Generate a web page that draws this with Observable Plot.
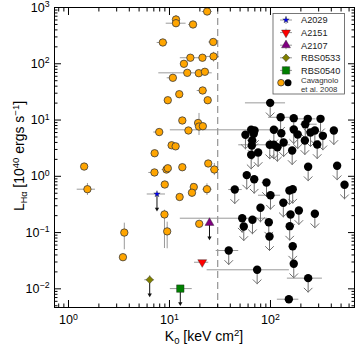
<!DOCTYPE html>
<html><head><meta charset="utf-8">
<script src="https://cdn.jsdelivr.net/npm/d3@7"></script>
<script src="https://cdn.jsdelivr.net/npm/@observablehq/plot@0.6"></script>
<style>html,body{margin:0;padding:0;background:#fff;}</style>
</head><body><div id="chart"></div>
<script>
// ---------- Cavagnolo et al. 2008: detections (orange) ----------
const detK   = [23.6, 11.6, 11.6, 17.1, 8.59, 27.1, 16.1, 21.2, 27.3, 13.9, 15.0, 19.5, 22.4, 10.8, 12.5, 21.3, 9.62, 23.9, 13.4, 19.2, 19.6, 21.4, 15.4, 7.91, 10.5, 11.5, 7.13, 13.4, 24.2, 27.8, 7.10, 9.34, 9.62, 8.98, 17.4, 16.7, 23.5, 1.43, 1.54, 12.6, 8.92, 9.49, 3.57, 3.46, 19.7];
const detL   = [849, 612, 526, 499, 239, 244, 128, 128, 135, 99.8, 69.0, 68.0, 72.0, 56.3, 28.8, 33.5, 22.5, 22.5, 9.81, 8.86, 7.67, 7.77, 6.52, 6.12, 3.56, 3.41, 2.57, 1.45, 1.69, 1.32, 1.17, 1.32, 1.39, 0.715, 0.645, 0.511, 0.590, 1.49, 0.590, 0.429, 0.210, 0.105, 0.100, 0.0365, 0.143];
const detKlo = [21.1, null, 9.28, 15.5, 7.55, 24.5, 12.8, null, 22.7, null, 7.84, null, null, 9.49, null, 18.8, null, null, null, null, null, null, null, 6.99, null, null, null, null, null, 25.5, 6.24, 8.47, null, null, null, null, 21.4, null, 1.22, null, null, null, null, null, null];
const detKhi = [26.5, null, 14.6, 18.8, 9.62, 29.7, 20.3, null, 31.3, null, 26.5, null, null, 11.9, null, 23.6, null, null, null, null, null, null, null, 8.78, null, null, null, null, null, 31.3, 7.84, 10.6, null, null, null, null, 26.5, null, 1.85, null, null, null, null, null, null];
const detLlo = [null, null, 441, null, null, null, null, null, 107, null, null, null, null, null, null, null, null, null, null, null, 5.31, null, null, null, null, null, null, null, null, 1.03, null, null, null, null, null, 0.425, 0.456, null, 0.456, null, 0.0521, 0.0515, 0.0494, null, null];
const detLhi = [null, null, 721, null, null, null, null, null, 160, null, null, null, null, null, null, null, null, null, null, null, 13.1, null, null, null, null, null, null, null, null, 1.69, null, null, null, null, null, 0.745, 0.736, null, 0.745, null, 0.25, 0.153, 0.147, null, null];

// ---------- Cavagnolo et al. 2008: upper limits (black) ----------
const limK   = [99.3, 126, 170, 234, 313, 221, 64.4, 69.5, 108, 170, 275, 424, 56.5, 68.3, 128, 186, 249, 330, 65.9, 219, 135, 98.4, 108, 117, 290, 65.3, 164, 75.5, 64.4, 236, 457, 58.2, 69.0, 91.3, 541, 44.3, 100, 154, 166, 134, 79.6, 158, 191, 275, 52.5, 66.3, 96.2, 54.4, 155, 97.8, 166, 38.6, 170, 73.8, 236];
const limL   = [20.2, 11.2, 10.8, 10.5, 10.5, 8.43, 6.70, 6.52, 6.70, 6.79, 6.52, 6.52, 5.47, 5.69, 5.83, 5.53, 6.00, 5.24, 4.33, 4.33, 3.99, 3.63, 3.63, 3.29, 3.67, 3.53, 2.87, 2.65, 2.41, 1.48, 1.54, 1.05, 0.888, 0.776, 0.706, 0.582, 0.461, 0.560, 0.590, 0.338, 0.276, 0.209, 0.247, 0.216, 0.180, 0.169, 0.153, 0.128, 0.130, 0.0851, 0.0573, 0.048, 0.0279, 0.0218, 0.0155];
const limKlo = [56.5, 95.5, null, 181, null, 198, 10.2, null, null, null, null, null, null, null, null, null, null, null, null, null, null, 48.5, null, null, null, null, null, null, null, null, null, null, null, 82.7, null, 38.6, 76.1, null, null, null, null, null, null, null, 12.8, null, null, null, null, null, null, 29.0, null, 23.6, 147];
const limKhi = [141, 165, null, 282, null, 290, 112, null, null, null, null, null, null, null, null, null, null, null, null, null, null, 158, null, null, null, null, null, null, null, null, null, null, null, 100, null, 52.5, 126, null, null, null, null, null, null, null, 93.4, null, null, null, null, null, null, 48.5, null, 154, 327];
// black point without an arrow
const blkK = [152], blkL = [0.00654], blkKlo = [117], blkKhi = [191];

// ---------- individual clusters ----------
const spName  = ["A2029", "A2151", "A2107", "RBS0533", "RBS0540"];
const spK     = [7.52, 21.1, 24.9, 6.37, 12.8];
const spL     = [0.485, 0.0297, 0.149, 0.0145, 0.0101];
const spKlo   = [6.02, 17.7, null, 5.69, 10.2];
const spKhi   = [9.13, 24.5, null, 7.10, 16.8];
const spLlo   = [null, null, null, 0.0128, null];
const spLhi   = [null, null, null, 0.0171, null];
const spLimit = [true, false, true, true, true];

// ---------- ticks ----------
const xMajor = [1, 10, 100];
const xMinor = [0.8, 0.9, 2, 3, 4, 5, 6, 7, 8, 9, 20, 30, 40, 50, 60, 70, 80, 90, 200, 300, 400, 500, 600];
const yMajor = [0.01, 0.1, 1, 10, 100, 1000];
const yMinor = [0.005, 0.006, 0.007, 0.008, 0.009, 0.02, 0.03, 0.04, 0.05, 0.06, 0.07, 0.08, 0.09, 0.2, 0.3, 0.4, 0.5, 0.6, 0.7, 0.8, 0.9, 2, 3, 4, 5, 6, 7, 8, 9, 20, 30, 40, 50, 60, 70, 80, 90, 200, 300, 400, 500, 600, 700, 800, 900];
const kCut = [30];

// ---------- tables ----------
const det = detK.map((k, i) => ({k, l: detL[i], klo: detKlo[i], khi: detKhi[i], llo: detLlo[i], lhi: detLhi[i]}));
const lim = limK.map((k, i) => ({k, l: limL[i], klo: limKlo[i], khi: limKhi[i]}));
const blk = blkK.map((k, i) => ({k, l: blkL[i], klo: blkKlo[i], khi: blkKhi[i]}));
const sp = spK.map((k, i) => ({name: spName[i], k, l: spL[i], klo: spKlo[i], khi: spKhi[i], llo: spLlo[i], lhi: spLhi[i], limit: spLimit[i]}));
const all = [...det, ...lim, ...blk, ...sp];
const xErr = all.filter(d => d.klo != null);
const yErr = all.filter(d => d.llo != null);
const spStyle = {
  A2029:   {symbol: "star", fill: "#0000ff", r: 2.0, rotate: 0},
  A2151:   {symbol: "triangle", fill: "#ff0000", r: 3.3, rotate: 180},
  A2107:   {symbol: "triangle", fill: "#800080", r: 3.3, rotate: 0},
  RBS0533: {symbol: "diamond2", fill: "#808000", r: 3.4, rotate: 0},
  RBS0540: {symbol: "square", fill: "#008000", r: 4.2, rotate: 0}
};
const spMarks = sp.map(d => Plot.dot([d], {x: "k", y: "l", symbol: spStyle[d.name].symbol, fill: spStyle[d.name].fill, r: spStyle[d.name].r, rotate: spStyle[d.name].rotate, stroke: "#222", strokeWidth: 0.4}));
const spLim = sp.filter(d => d.limit);

const expFmt = d => "10^" + Math.round(Math.log10(d));
const font = "Liberation Sans, Arial, sans-serif";

const svg = Plot.plot({
  width: 357, height: 346,
  marginLeft: 54, marginRight: 3, marginTop: 7, marginBottom: 39,
  style: {fontFamily: font, background: "white", color: "black"},
  x: {type: "log", domain: [0.727, 679], label: null},
  y: {type: "log", domain: [0.00466, 1000], label: null},
  marks: [
    Plot.ruleX(kCut, {stroke: "#9c9c9c", strokeWidth: 1.3, strokeDasharray: "7,4"}),
    Plot.ruleY(xErr, {y: "l", x1: "klo", x2: "khi", stroke: "#9a9a9a", strokeWidth: 1}),
    Plot.ruleX(yErr, {x: "k", y1: "llo", y2: "lhi", stroke: "#9a9a9a", strokeWidth: 1}),
    Plot.vector(lim, {x: "k", y: "l", length: 14, rotate: 180, anchor: "start", r: 5, stroke: "#707070", strokeWidth: 1}),
    Plot.vector(spLim, {x: "k", y: "l", length: 15, rotate: 180, anchor: "start", r: 0.1, stroke: "#111", strokeWidth: 1}),
    Plot.dot(spLim, {x: "k", y: "l", dy: 15, symbol: "triangle", rotate: 180, r: 1.6, fill: "#111"}),
    Plot.dot(det, {x: "k", y: "l", r: 3.7, fill: "#ffa500", stroke: "#3a3a3a", strokeWidth: 0.8}),
    Plot.dot([...lim, ...blk], {x: "k", y: "l", r: 4.2, fill: "black"}),
    ...spMarks,
    Plot.frame({stroke: "black", strokeWidth: 1}),
    Plot.axisX({ticks: xMajor, anchor: "bottom", tickSize: 0, tickPadding: 8, tickFormat: expFmt, fontSize: 12.5, label: null}),
    Plot.axisY({ticks: yMajor, anchor: "left", tickSize: 0, tickPadding: 5, tickFormat: expFmt, fontSize: 12.5, label: null}),
    Plot.axisX({ticks: xMajor, anchor: "bottom", tickSize: -7, tickFormat: () => "", label: null}),
    Plot.axisX({ticks: xMinor, anchor: "bottom", tickSize: -3.5, tickFormat: () => "", label: null}),
    Plot.axisX({ticks: xMajor, anchor: "top", tickSize: -7, tickFormat: () => "", label: null}),
    Plot.axisX({ticks: xMinor, anchor: "top", tickSize: -3.5, tickFormat: () => "", label: null}),
    Plot.axisY({ticks: yMajor, anchor: "left", tickSize: -7, tickFormat: () => "", label: null}),
    Plot.axisY({ticks: yMinor, anchor: "left", tickSize: -3.5, tickFormat: () => "", label: null}),
    Plot.axisY({ticks: yMajor, anchor: "right", tickSize: -7, tickFormat: () => "", label: null}),
    Plot.axisY({ticks: yMinor, anchor: "right", tickSize: -3.5, tickFormat: () => "", label: null})
  ]
});
document.getElementById("chart").appendChild(svg);

const S = d3.select(svg);
// superscript tick labels
S.selectAll("text").each(function () {
  const s = this.textContent;
  if (!s.includes("^")) return;
  const [b, e] = s.split("^");
  const t = d3.select(this);
  t.text(b);
  t.append("tspan").attr("dy", "-0.5em").attr("font-size", "0.7em").text(e.replace("-", "\u2212"));
});

// axis titles
const xl = S.append("text").attr("x", 204).attr("y", 341).attr("text-anchor", "middle")
  .attr("font-family", font).attr("font-size", 14).attr("fill", "black");
xl.append("tspan").text("K");
xl.append("tspan").attr("dy", 3).attr("font-size", 9.5).text("0");
xl.append("tspan").attr("dy", -3).text(" [keV cm");
xl.append("tspan").attr("dy", -5).attr("font-size", 9.5).text("2");
xl.append("tspan").attr("dy", 5).text("]");

const yl = S.append("text").attr("transform", "translate(23.5,156) rotate(-90)").attr("text-anchor", "middle")
  .attr("font-family", font).attr("font-size", 14).attr("fill", "black");
yl.append("tspan").text("L");
yl.append("tspan").attr("dy", 3).attr("font-size", 9).text("H\u03b1");
yl.append("tspan").attr("dy", -3).text(" [10");
yl.append("tspan").attr("dy", -5).attr("font-size", 9.5).text("40");
yl.append("tspan").attr("dy", 5).text(" ergs s");
yl.append("tspan").attr("dy", -5).attr("font-size", 9.5).text("\u22121");
yl.append("tspan").attr("dy", 5).text("]");

// legend
const lg = S.append("g").attr("font-family", font).attr("text-anchor", "start");
lg.append("rect").attr("x", 273).attr("y", 13.5).attr("width", 71.5).attr("height", 80.5)
  .attr("fill", "white").attr("stroke", "#555").attr("stroke-width", 0.8);
const symMap = {star: d3.symbolStar, triangle: d3.symbolTriangle, diamond2: d3.symbolDiamond2, square: d3.symbolSquare};
spName.forEach((n, i) => {
  const cy = 20 + i * 12.6, cx = 286, st = spStyle[n];
  lg.append("line").attr("x1", cx - 6).attr("x2", cx + 6).attr("y1", cy).attr("y2", cy).attr("stroke", "#9a9a9a");
  lg.append("line").attr("x1", cx).attr("x2", cx).attr("y1", cy - 4).attr("y2", cy + 4).attr("stroke", "#9a9a9a");
  lg.append("path").attr("d", d3.symbol(symMap[st.symbol], Math.PI * st.r * st.r)())
    .attr("transform", `translate(${cx},${cy}) rotate(${st.rotate})`).attr("fill", st.fill)
    .attr("stroke", "#222").attr("stroke-width", 0.4);
  lg.append("text").attr("x", 301).attr("y", cy + 3.3).attr("text-anchor", "start").attr("font-size", 9.2).attr("fill", "#222").text(n);
});
lg.append("circle").attr("cx", 281).attr("cy", 82.7).attr("r", 3.3).attr("fill", "#ffa500").attr("stroke", "#3a3a3a").attr("stroke-width", 0.8);
lg.append("circle").attr("cx", 288).attr("cy", 82.7).attr("r", 3.5).attr("fill", "black");
lg.append("text").attr("x", 301).attr("y", 83).attr("text-anchor", "start").attr("font-size", 7.8).attr("fill", "#333").text("Cavagnolo");
lg.append("text").attr("x", 301).attr("y", 91.8).attr("text-anchor", "start").attr("font-size", 7.8).attr("fill", "#333").text("et al. 2008");
</script></body></html>
